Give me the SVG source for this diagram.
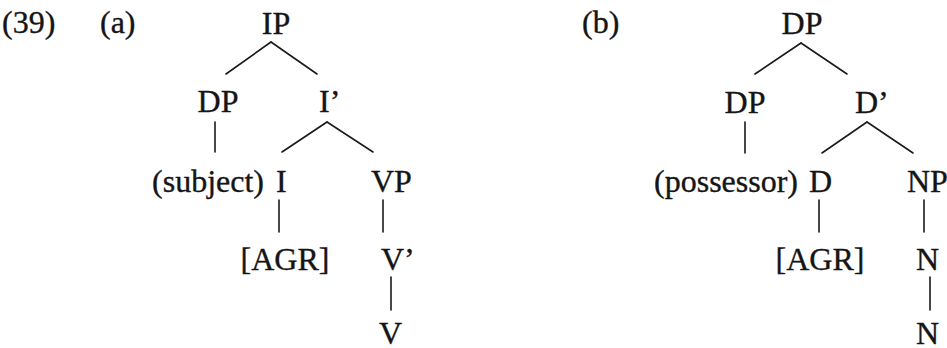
<svg xmlns="http://www.w3.org/2000/svg" width="947" height="348" viewBox="0 0 947 348">
  <style>
    text { font-family: 'Liberation Serif', 'DejaVu Serif', serif; font-size: 32px; fill: #151515; stroke: #151515; stroke-width: 0.35; }
    .m { text-anchor: middle; }
    .e { text-anchor: end; }
    .edge { stroke: #1a1a1a; stroke-width: 1.6; stroke-linecap: round; fill: none; }
  </style>
  <rect width="947" height="348" fill="#ffffff"/>

  <g id="labels">
    <text x="2" y="33">(39)</text>
    <text x="100" y="33">(a)</text>
    <text x="582" y="33">(b)</text>
  </g>

  <!-- Tree (a) -->
  <g id="a-IP"><text class="m" x="276" y="34">IP</text></g>
  <g id="a-DP"><text class="m" x="218" y="112">DP</text></g>
  <g id="a-Ibar"><text x="319" y="112">I’</text></g>
  <g id="a-subject"><text class="e" x="264" y="192">(subject)</text></g>
  <g id="a-I"><text x="276" y="192">I</text></g>
  <g id="a-VP"><text x="371" y="192">VP</text></g>
  <g id="a-AGR"><text class="m" x="285" y="270">[AGR]</text></g>
  <g id="a-Vbar"><text x="381" y="270">V’</text></g>
  <g id="a-V"><text x="379" y="344">V</text></g>

  <!-- Tree (b) -->
  <g id="b-DP"><text class="m" x="802" y="34">DP</text></g>
  <g id="b-DP2"><text class="m" x="745" y="113">DP</text></g>
  <g id="b-Dbar"><text x="855" y="113">D’</text></g>
  <g id="b-possessor"><text class="e" x="798" y="192">(possessor)</text></g>
  <g id="b-D"><text x="809" y="192">D</text></g>
  <g id="b-NP"><text x="907" y="192">NP</text></g>
  <g id="b-AGR"><text class="m" x="820" y="270">[AGR]</text></g>
  <g id="b-N1"><text x="916" y="270">N</text></g>
  <g id="b-N2"><text x="916" y="344">N</text></g>

  <g id="connectors">
    <!-- tree (a) -->
    <line class="edge" x1="271" y1="42" x2="226" y2="74"/>
    <line class="edge" x1="271" y1="42" x2="317" y2="74"/>
    <line class="edge" x1="215" y1="122" x2="215" y2="152"/>
    <line class="edge" x1="327" y1="122" x2="282" y2="152"/>
    <line class="edge" x1="327" y1="122" x2="373" y2="152"/>
    <line class="edge" x1="279" y1="200" x2="279" y2="232"/>
    <line class="edge" x1="383" y1="200" x2="383" y2="232"/>
    <line class="edge" x1="391" y1="277" x2="391" y2="310"/>
    <!-- tree (b) -->
    <line class="edge" x1="801" y1="43" x2="755" y2="74"/>
    <line class="edge" x1="801" y1="43" x2="847" y2="74"/>
    <line class="edge" x1="745" y1="122" x2="745" y2="153"/>
    <line class="edge" x1="867" y1="122" x2="822" y2="153"/>
    <line class="edge" x1="867" y1="122" x2="913" y2="153"/>
    <line class="edge" x1="819" y1="200" x2="819" y2="232"/>
    <line class="edge" x1="924" y1="200" x2="924" y2="232"/>
    <line class="edge" x1="930" y1="277" x2="930" y2="310"/>
  </g>
</svg>
